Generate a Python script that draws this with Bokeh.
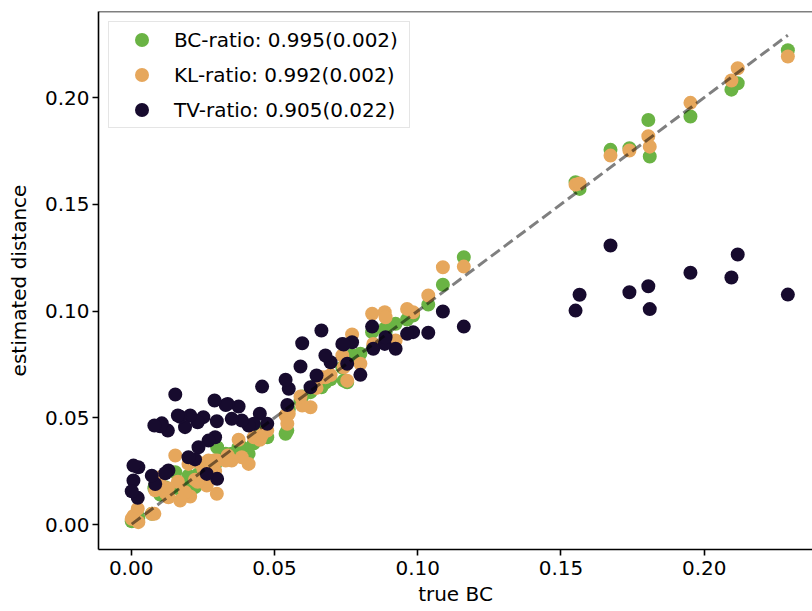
from bokeh.plotting import figure
from bokeh.models import Range1d, Span, Legend, LegendItem, FixedTicker, NumeralTickFormatter
from bokeh.embed import file_html
from bokeh.resources import INLINE

# ---- data ----
true_bc = [0.2292, 0.2117, 0.2095, 0.1952, 0.1805, 0.1810, 0.1739, 0.1673, 0.1551, 0.1565,
           0.1161, 0.1088, 0.1037, 0.0984, 0.0963, 0.0923, 0.0885, 0.0888, 0.0841, 0.0845,
           0.0800, 0.0771, 0.0737, 0.0754, 0.0742, 0.0696, 0.0678, 0.0664, 0.0647, 0.0626,
           0.0597, 0.0591, 0.0550, 0.0539, 0.0545, 0.0475, 0.0457, 0.0449, 0.0428, 0.0410,
           0.0386, 0.0375, 0.0351, 0.0337, 0.0330, 0.0299, 0.0293, 0.0291, 0.0300, 0.0270,
           0.0264, 0.0252, 0.0235, 0.0232, 0.0223, 0.0206, 0.0200, 0.0188, 0.0171, 0.0163,
           0.0154, 0.0130, 0.0128, 0.0119, 0.0107, 0.0101, 0.0084, 0.0081, 0.0072, 0.0025,
           0.0023, 0.0008, 0.0008, 0.0002]
bc_ratio = [0.2222, 0.2067, 0.2037, 0.1911, 0.1895, 0.1724, 0.1763, 0.1755, 0.1603, 0.1572,
            0.1252, 0.1123, 0.1030, 0.0979, 0.0960, 0.0940, 0.0917, 0.0900, 0.0901, 0.0830,
            0.0800, 0.0792, 0.0735, 0.0666, 0.0674, 0.0680, 0.0665, 0.0643, 0.0660, 0.0620,
            0.0600, 0.0580, 0.0540, 0.0425, 0.0440, 0.0409, 0.0450, 0.0430, 0.0380, 0.0331,
            0.0362, 0.0362, 0.0331, 0.0320, 0.0331, 0.0300, 0.0280, 0.0300, 0.0362, 0.0250,
            0.0237, 0.0240, 0.0237, 0.0229, 0.0175, 0.0200, 0.0229, 0.0175, 0.0190, 0.0170,
            0.0245, 0.0160, 0.0150, 0.0175, 0.0160, 0.0140, 0.0183, 0.0170, 0.0050, 0.0030,
            0.0040, 0.0020, 0.0025, 0.0015]
kl_ratio = [0.2192, 0.2137, 0.2080, 0.1975, 0.1819, 0.1770, 0.1752, 0.1728, 0.1592, 0.1597,
            0.1208, 0.1205, 0.1073, 0.0994, 0.1010, 0.0862, 0.0994, 0.0971, 0.0987, 0.0846,
            0.0753, 0.0890, 0.0792, 0.0674, 0.0737, 0.0700, 0.0690, 0.0690, 0.0640, 0.0549,
            0.0557, 0.0600, 0.0519, 0.0511, 0.0472, 0.0440, 0.0420, 0.0397, 0.0409, 0.0284,
            0.0315, 0.0397, 0.0300, 0.0323, 0.0300, 0.0144, 0.0250, 0.0300, 0.0300, 0.0300,
            0.0183, 0.0260, 0.0292, 0.0200, 0.0210, 0.0131, 0.0284, 0.0151, 0.0112, 0.0200,
            0.0323, 0.0128, 0.0170, 0.0150, 0.0180, 0.0222, 0.0160, 0.0050, 0.0050, 0.0011,
            0.0074, 0.0027, 0.0040, 0.0027]
tv_ratio = [0.1077, 0.1265, 0.1157, 0.1179, 0.1116, 0.1009, 0.1088, 0.1307, 0.1002, 0.1076,
            0.0927, 0.0998, 0.0898, 0.0901, 0.0893, 0.0823, 0.0846, 0.0877, 0.0927, 0.0823,
            0.0701, 0.0854, 0.0846, 0.0753, 0.0843, 0.0760, 0.0792, 0.0909, 0.0698, 0.0643,
            0.0849, 0.0740, 0.0636, 0.0678, 0.0560, 0.0472, 0.0646, 0.0519, 0.0472, 0.0464,
            0.0487, 0.0553, 0.0495, 0.0565, 0.0560, 0.0484, 0.0409, 0.0581, 0.0214, 0.0393,
            0.0237, 0.0503, 0.0362, 0.0479, 0.0305, 0.0511, 0.0315, 0.0456, 0.0505, 0.0511,
            0.0609, 0.0253, 0.0440, 0.0240, 0.0474, 0.0460, 0.0190, 0.0464, 0.0229, 0.0268,
            0.0125, 0.0276, 0.0206, 0.0156]

series_labels = ["BC-ratio: 0.995(0.002)", "KL-ratio: 0.992(0.002)", "TV-ratio: 0.905(0.022)"]
series_colors = ["#6ab344", "#e6a75c", "#170b2e"]
x_ticks = [0.0, 0.05, 0.10, 0.15, 0.20]
y_ticks = [0.0, 0.05, 0.10, 0.15, 0.20]
x_label = "true BC"
y_label = "estimated distance"

FONT = "DejaVu Sans"

p = figure(width=812, height=611, output_backend="svg", toolbar_location=None,
           x_range=Range1d(-0.0114, 0.2378), y_range=Range1d(-0.0117, 0.2403),
           min_border_left=98, min_border_right=0, min_border_top=11, min_border_bottom=62)
p.background_fill_color = "white"
p.border_fill_color = "white"
p.outline_line_color = None
p.grid.visible = False

renderers = []
for ys, col in zip([bc_ratio, kl_ratio, tv_ratio], series_colors):
    r = p.scatter(true_bc, ys, size=14, fill_color=col, line_color=None)
    renderers.append(r)

lo, hi = min(true_bc), max(true_bc)
p.line([lo, hi], [lo, hi], line_color="black", line_alpha=0.5, line_width=3, line_dash="11 5")

p.add_layout(Span(location=0.2403, dimension="width", line_color="black", line_width=1.6))

for ax, ticks, lab in [(p.xaxis[0], x_ticks, x_label), (p.yaxis[0], y_ticks, y_label)]:
    ax.ticker = FixedTicker(ticks=ticks)
    ax.formatter = NumeralTickFormatter(format="0.00")
    ax.axis_label = lab
    ax.axis_line_color = "black"
    ax.axis_line_width = 1.6
    ax.major_tick_line_color = "black"
    ax.major_tick_line_width = 1.6
    ax.major_tick_in = 0
    ax.major_tick_out = 6
    ax.minor_tick_line_color = None
    ax.major_label_text_font = FONT
    ax.major_label_text_font_size = "20px"
    ax.major_label_text_color = "black"
    ax.axis_label_text_font = FONT
    ax.axis_label_text_font_size = "20px"
    ax.axis_label_text_font_style = "normal"
    ax.axis_label_text_color = "black"

p.xaxis[0].major_label_standoff = 5
p.xaxis[0].axis_label_standoff = 4
p.yaxis[0].major_label_standoff = 3
p.yaxis[0].axis_label_standoff = 11

legend = Legend(items=[LegendItem(label=l, renderers=[r]) for l, r in zip(series_labels, renderers)],
                location="top_left", margin=10, padding=0, spacing=-5,
                glyph_height=35, glyph_width=65, label_height=35, label_width=235,
                label_standoff=0, label_text_font=FONT, label_text_font_size="20px",
                label_text_color="black", border_line_color="#cccccc", border_line_width=1.5,
                background_fill_color="white", background_fill_alpha=0.8)
p.add_layout(legend)

open("out.html", "w").write(file_html(p, INLINE))
